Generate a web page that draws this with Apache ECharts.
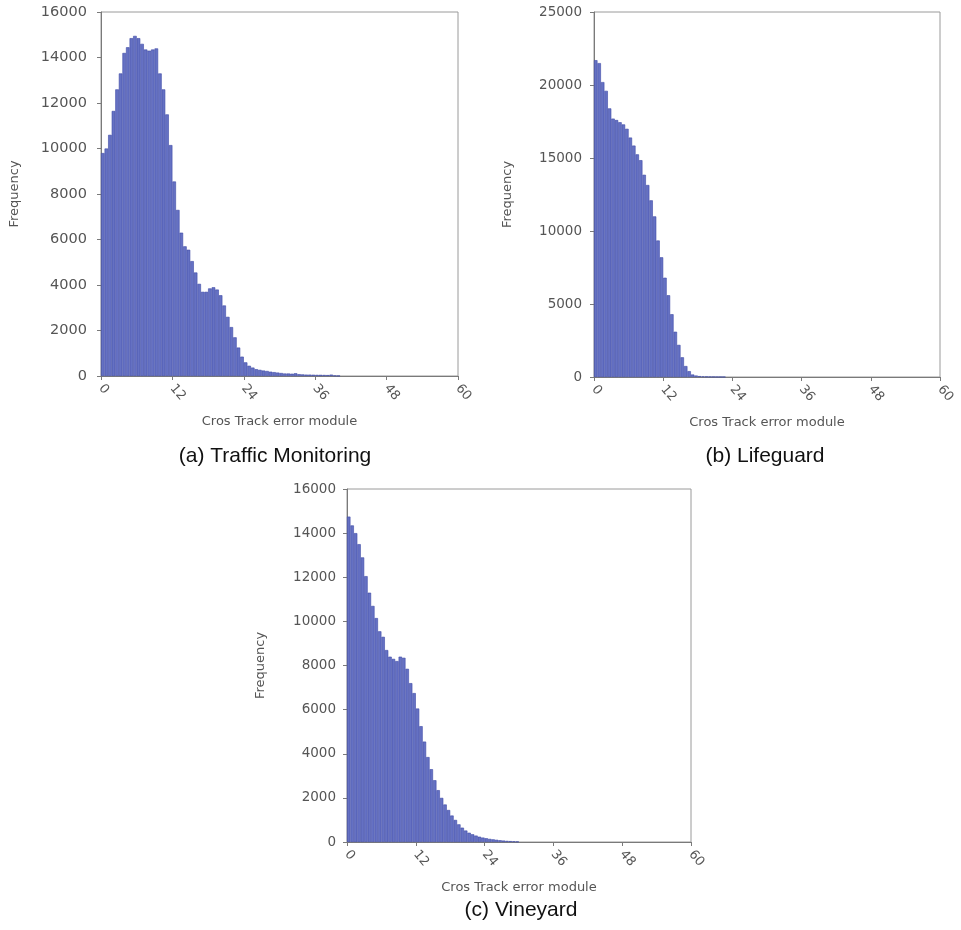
<!DOCTYPE html>
<html>
<head>
<meta charset="utf-8">
<script src="https://cdn.jsdelivr.net/npm/echarts@6/dist/echarts.min.js"></script>
<style>
html,body{margin:0;padding:0;background:#fff;}
#main{width:961px;height:930px;}
</style>
</head>
<body>
<div id="main"></div>
<script>
// Histogram bins: 100 bins of width 0.6 over 0..60
const binCount = 100;
const xTickLabels = [0, 12, 24, 36, 48, 60];

const trafficFreq = [9800,10000,10600,11650,12600,13300,14200,14450,14850,14950,
  14850,14600,14350,14300,14350,14400,13300,12600,11500,10150,
  8550,7300,6300,5700,5550,5050,4550,4050,3700,3700,
  3850,3900,3800,3550,3100,2600,2150,1700,1250,850,
  600,450,370,300,270,240,220,190,170,150,
  130,110,110,100,120,80,70,60,60,55,
  50,50,45,40,60,20,10];

const lifeguardFreq = [21700,21500,20200,19600,18400,17700,17600,17450,17300,17000,
  16400,15850,15250,14850,13850,13150,12100,11000,9350,8200,
  6800,5600,4300,3100,2200,1350,750,400,170,100,
  60,40,30,20,15,10,8,5];

const vineyardFreq = [14750,14350,14000,13500,12900,12050,11300,10700,10150,9550,
  9300,8700,8400,8300,8200,8400,8350,7850,7200,6750,
  6050,5250,4550,3850,3300,2800,2350,2000,1700,1450,
  1200,1000,800,650,520,420,350,290,240,200,
  170,140,120,100,80,65,50,40,30,20];

const captions = ['(a) Traffic Monitoring', '(b) Lifeguard', '(c) Vineyard'];
const xName = 'Cros Track error module';
const yName = 'Frequency';

const binCats = [];
for (let i = 0; i < binCount; i++) binCats.push(String(i));

const AXFONT = '"DejaVu Sans", Verdana, sans-serif';
const CAPFONT = '"Liberation Sans", Arial, sans-serif';
const axisGray = '#7a7a7a';
const borderGray = '#9a9a9a';
const labelGray = '#555555';

const panels = [
  {grid:{left:101, top:12, width:357, height:364}, yMax:16000, yInt:2000, yFont:14.5, yMargin:14, data:trafficFreq},
  {grid:{left:594, top:12, width:346, height:365}, yMax:25000, yInt:5000, yFont:13.5, yMargin:12, data:lifeguardFreq},
  {grid:{left:347, top:489, width:344, height:353}, yMax:16000, yInt:2000, yFont:13.5, yMargin:11, data:vineyardFreq}
];

const grids = [], xAxes = [], yAxes = [], series = [];
panels.forEach((p, i) => {
  grids.push(Object.assign({show:true, borderColor:borderGray, borderWidth:1, containLabel:false}, p.grid));
  // hidden category axis for histogram bins
  xAxes.push({type:'category', gridIndex:i, data:binCats, show:false, boundaryGap:true});
  // visible value axis
  xAxes.push({
    type:'value', gridIndex:i, min:xTickLabels[0], max:xTickLabels[xTickLabels.length-1], interval:12,
    position:'bottom',
    name:xName, nameLocation:'middle', nameGap:39,
    nameTextStyle:{fontFamily:AXFONT, fontSize:13, color:labelGray},
    axisLine:{show:true, lineStyle:{color:axisGray, width:1}},
    axisTick:{show:true, length:4, lineStyle:{color:axisGray}},
    axisLabel:{rotate:-50, margin:10, fontFamily:AXFONT, fontSize:13, color:labelGray},
    splitLine:{show:false}
  });
  yAxes.push({
    type:'value', gridIndex:i, min:0, max:p.yMax, interval:p.yInt,
    name:yName, nameLocation:'middle', nameGap:80,
    nameTextStyle:{fontFamily:AXFONT, fontSize:13, color:labelGray},
    axisLine:{show:true, lineStyle:{color:axisGray, width:1}},
    axisTick:{show:true, length:4, lineStyle:{color:axisGray}},
    axisLabel:{margin:p.yMargin, fontFamily:AXFONT, fontSize:p.yFont, color:labelGray, formatter:(v)=>String(v)},
    splitLine:{show:false}
  });
  series.push({
    type:'bar', xAxisIndex:i*2, yAxisIndex:i, data:p.data,
    barCategoryGap:'0%', barGap:'0%',
    itemStyle:{color:'#6571c3', borderColor:'#3e4aa6', borderWidth:0.6},
    silent:true, animation:false
  });
});

const capStyle = {fontFamily:CAPFONT, fontSize:21, fontWeight:'normal', color:'#111'};
const chart = echarts.init(document.getElementById('main'), null, {renderer:'canvas'});
chart.setOption({
  animation:false,
  backgroundColor:'#ffffff',
  title:[
    {text:captions[0], left:270, top:441, textAlign:'center', textStyle:capStyle},
    {text:captions[1], left:760, top:441, textAlign:'center', textStyle:capStyle},
    {text:captions[2], left:516, top:895, textAlign:'center', textStyle:capStyle}
  ],
  grid:grids, xAxis:xAxes, yAxis:yAxes, series:series
});
</script>
</body>
</html>
